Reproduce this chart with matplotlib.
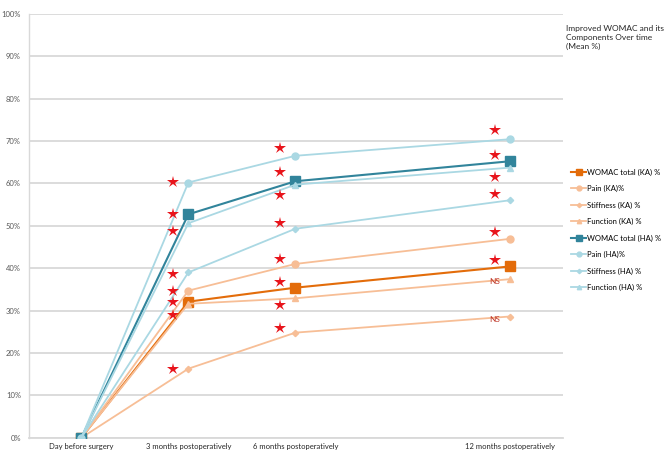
#!/usr/bin/env python3
# -*- coding: utf-8 -*-

# Import Python modules.
import matplotlib.pyplot as plt
from matplotlib.ticker import PercentFormatter

plt.rcParams['font.family'] = ['Lato', 'DejaVu Sans']

# Data (percent improvement) at each time point (months after surgery).
months = [0, 3, 6, 12]
tick_labels = ['Day before surgery', '3 months postoperatively',
               '6 months postoperatively', '12 months postoperatively']

womac_ka = [0, 32.1, 35.4, 40.4]
pain_ka = [0, 34.7, 41.0, 46.9]
stiff_ka = [0, 16.3, 24.8, 28.6]
func_ka = [0, 31.6, 32.9, 37.4]
womac_ha = [0, 52.7, 60.5, 65.2]
pain_ha = [0, 60.2, 66.5, 70.4]
stiff_ha = [0, 39.0, 49.3, 56.0]
func_ha = [0, 50.6, 59.7, 63.7]

# Significance markers (star positions) next to each time point.
star_months = [3, 6, 12]
stars_3m = [60.3, 52.8, 48.7, 38.6, 34.7, 32.0, 28.9, 16.2]
stars_6m = [68.4, 62.6, 57.2, 50.7, 42.2, 36.8, 31.4, 25.9]
stars_12m = [72.6, 66.8, 61.6, 57.5, 48.6, 42.0]
ns_12m = [36.8, 27.9]

KA_DARK = '#E36C0A'
KA_LIGHT = '#F7BE96'
HA_DARK = '#31849B'
HA_LIGHT = '#AAD8E3'

fig = plt.figure(figsize=(6.64, 4.57), dpi=100)
ax = fig.add_axes([0.044, 0.042, 0.804, 0.928])

series = [
    (womac_ka, 'WOMAC total (KA) %', KA_DARK, 's', 6.5, 1.5),
    (pain_ka, 'Pain (KA)%', KA_LIGHT, 'o', 5, 1.3),
    (stiff_ka, 'Stiffness (KA) %', KA_LIGHT, 'D', 3.2, 1.3),
    (func_ka, 'Function (KA) %', KA_LIGHT, '^', 4.5, 1.3),
    (womac_ha, 'WOMAC total (HA) %', HA_DARK, 's', 6.5, 1.5),
    (pain_ha, 'Pain (HA)%', HA_LIGHT, 'o', 5, 1.3),
    (stiff_ha, 'Stiffness (HA) %', HA_LIGHT, 'D', 3.2, 1.3),
    (func_ha, 'Function (HA) %', HA_LIGHT, '^', 4.5, 1.3),
]
for values, label, color, marker, msize, lw in series:
    ax.plot(months, values, color=color, marker=marker, markersize=msize,
            linewidth=lw, label=label, zorder=3)

# Red stars drawn just left of each time point.
offset = -0.42
for m, stars in zip(star_months, [stars_3m, stars_6m, stars_12m]):
    ax.plot([m + offset] * len(stars), stars, linestyle='none', marker='*',
            markersize=9, color='#E8141B', markeredgewidth=0, zorder=4)
for v in ns_12m:
    ax.text(12 + offset, v, 'NS', color='#C0392B', fontsize=6,
            ha='center', va='center', zorder=4)

ax.set_xlim(-1.46, 13.5)
ax.set_ylim(0, 100)
ax.set_yticks(range(0, 101, 10))
ax.yaxis.set_major_formatter(PercentFormatter(decimals=0))
ax.set_xticks(months)
ax.set_xticklabels(tick_labels)
ax.tick_params(axis='y', length=0, labelsize=5.5, labelcolor='#595959', pad=6)
ax.tick_params(axis='x', length=0, labelsize=5.5, labelcolor='#262626', pad=4)
ax.grid(axis='y', color='#D9D9D9', linewidth=1.3)
ax.set_axisbelow(True)
for side in ['top', 'right']:
    ax.spines[side].set_visible(False)
ax.spines['left'].set_color('#D9D9D9')
ax.spines['bottom'].set_color('#D9D9D9')
ax.spines['left'].set_linewidth(1.0)
ax.spines['bottom'].set_linewidth(1.3)

ax.legend(loc='upper left', bbox_to_anchor=(1.015, 0.635), frameon=False,
          fontsize=5.5, handlelength=2.0, labelspacing=1.22, markerscale=0.7,
          handletextpad=0.1, borderaxespad=0.0, borderpad=0.0)

fig.text(0.852, 0.945, 'Improved WOMAC and its\nComponents Over time\n(Mean %)',
         fontsize=6, color='#262626', va='top', ha='left', linespacing=1.3)

fig.savefig('out.png', dpi=100)
